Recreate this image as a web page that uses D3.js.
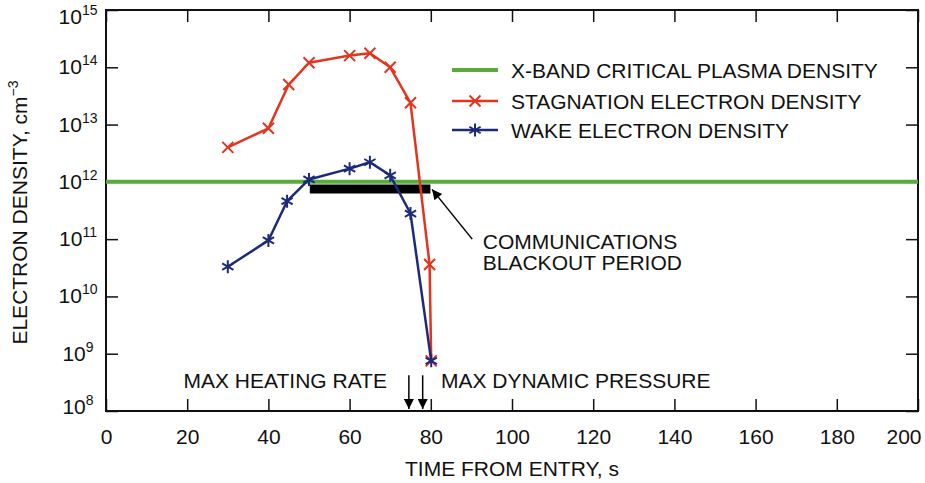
<!DOCTYPE html>
<html>
<head>
<meta charset="utf-8">
<script src="https://cdn.jsdelivr.net/npm/d3@7"></script>
<style>
  body { margin: 0; background: #fff; }
  text { font-family: "Liberation Sans", Arial, Helvetica, sans-serif; fill: #111; }
</style>
</head>
<body>
<script>
// data
const stagTime = [30, 40, 45, 50, 60, 65, 70, 75, 79.7, 80.1];
const stagDensity = [4e12, 8.6e12, 5e13, 1.2e14, 1.6e14, 1.76e14, 1.0e14, 2.4e13, 3.6e10, 7.5e8];
const wakeTime = [30, 40, 44.6, 50, 60, 65, 70, 75, 80.1];
const wakeDensity = [3.3e10, 9.5e10, 4.6e11, 1.1e12, 1.7e12, 2.2e12, 1.3e12, 2.8e11, 7.5e8];
const criticalDensity = 1e12;
const blackout = [50.2, 79.9];      // s
const blackoutLevel = 7.5e11;
const eventTimes = [74.6, 78];      // max heating rate, max dynamic pressure
const xTicks = [0, 20, 40, 60, 80, 100, 120, 140, 160, 180, 200];
const yExps = [8, 9, 10, 11, 12, 13, 14, 15];
const legendLabels = ["X-BAND CRITICAL PLASMA DENSITY", "STAGNATION ELECTRON DENSITY", "WAKE ELECTRON DENSITY"];

const W = 925, H = 483;
const red = "#e4341e", blue = "#1d2a7a", green = "#5aaa3c";

const svg = d3.select("body").append("svg")
    .attr("width", W).attr("height", H);

const x = d3.scaleLinear().domain([0, 200]).range([106, 918]);
const y = d3.scaleLog().domain([1e8, 1e15]).range([411, 10]);
const yTickVals = yExps.map(e => Math.pow(10, e));

// inward ticks on all four sides
const tickLen = 12;
svg.append("g").attr("transform", `translate(0,${y(1e8)})`)
    .call(d3.axisBottom(x).tickValues(xTicks).tickSizeInner(-tickLen).tickSizeOuter(0).tickPadding(18))
    .call(g => g.select(".domain").remove())
    .call(g => g.selectAll("line").attr("stroke", "#111").attr("stroke-width", 1.5))
    .call(g => g.selectAll("text").attr("font-size", 21).attr("font-family", null).attr("fill", "#111"))
    // last label pulled inside the window, as in the original
    .call(g => g.selectAll(".tick").filter(d => d === 200).select("text")
        .attr("text-anchor", "end").attr("x", 3));

svg.append("g").attr("transform", `translate(0,${y(1e15)})`)
    .call(d3.axisTop(x).tickValues(xTicks).tickSizeInner(-tickLen).tickSizeOuter(0).tickFormat(""))
    .call(g => g.select(".domain").remove())
    .call(g => g.selectAll("line").attr("stroke", "#111").attr("stroke-width", 1.5));

svg.append("g").attr("transform", `translate(${x(0)},0)`)
    .call(d3.axisLeft(y).tickValues(yTickVals).tickSizeInner(-tickLen).tickSizeOuter(0).tickFormat(""))
    .call(g => g.select(".domain").remove())
    .call(g => g.selectAll("line").attr("stroke", "#111").attr("stroke-width", 1.5));

svg.append("g").attr("transform", `translate(${x(200)},0)`)
    .call(d3.axisRight(y).tickValues(yTickVals).tickSizeInner(-tickLen).tickSizeOuter(0).tickFormat(""))
    .call(g => g.select(".domain").remove())
    .call(g => g.selectAll("line").attr("stroke", "#111").attr("stroke-width", 1.5));

// y tick labels as 10^n (end labels nudged inward)
const yShift = e => e === 15 ? 7 : e === 8 ? -4 : 0;
const yLab = svg.append("g").selectAll("text").data(yExps).join("text")
    .attr("x", 78).attr("y", d => y(Math.pow(10, d)) + 7 + yShift(d))
    .attr("text-anchor", "middle").attr("font-size", 21);
yLab.append("tspan").text("10");
yLab.append("tspan").attr("dy", -9).attr("font-size", 14).text(d => d);

// frame
svg.append("rect")
    .attr("x", x(0)).attr("y", y(1e15))
    .attr("width", x(200) - x(0)).attr("height", y(1e8) - y(1e15))
    .attr("fill", "none").attr("stroke", "#111").attr("stroke-width", 2);

// axis titles
svg.append("text").attr("x", (x(0) + x(200)) / 2).attr("y", 476)
    .attr("text-anchor", "middle").attr("font-size", 21).text("TIME FROM ENTRY, s");
const yt = svg.append("text")
    .attr("transform", `translate(27,${(y(1e8) + y(1e15)) / 2 + 2}) rotate(-90)`)
    .attr("text-anchor", "middle").attr("font-size", 21);
yt.append("tspan").text("ELECTRON DENSITY, cm");
yt.append("tspan").attr("dy", -9).attr("font-size", 14).text("\u22123");

// critical density line
svg.append("line")
    .attr("x1", x(0)).attr("x2", x(200))
    .attr("y1", y(criticalDensity)).attr("y2", y(criticalDensity))
    .attr("stroke", green).attr("stroke-width", 4);

// blackout bar
svg.append("line")
    .attr("x1", x(blackout[0])).attr("x2", x(blackout[1]))
    .attr("y1", y(blackoutLevel)).attr("y2", y(blackoutLevel))
    .attr("stroke", "#000").attr("stroke-width", 9);

const line = d3.line().x(d => x(d[0])).y(d => y(d[1]));
const stag = stagTime.map((t, i) => [t, stagDensity[i]]);
const wake = wakeTime.map((t, i) => [t, wakeDensity[i]]);

function crossMark(g, cx, cy, color) {
  const s = 5.5;
  g.append("path")
    .attr("d", `M${cx - s},${cy - s}L${cx + s},${cy + s}M${cx - s},${cy + s}L${cx + s},${cy - s}`)
    .attr("stroke", color).attr("stroke-width", 2).attr("fill", "none");
}
function starMark(g, cx, cy, color) {
  const s = 6.5, a = s * Math.cos(Math.PI / 6), b = s * 0.5;
  g.append("path")
    .attr("d", `M${cx},${cy - s}L${cx},${cy + s}M${cx - a},${cy - b}L${cx + a},${cy + b}M${cx - a},${cy + b}L${cx + a},${cy - b}`)
    .attr("stroke", color).attr("stroke-width", 2).attr("fill", "none");
}

svg.append("path").datum(stag).attr("d", line)
    .attr("fill", "none").attr("stroke", red).attr("stroke-width", 2.5).attr("stroke-linejoin", "round");
const stagG = svg.append("g");
stag.forEach(d => crossMark(stagG, x(d[0]), y(d[1]), red));

svg.append("path").datum(wake).attr("d", line)
    .attr("fill", "none").attr("stroke", blue).attr("stroke-width", 2.5).attr("stroke-linejoin", "round");
const wakeG = svg.append("g");
wake.forEach(d => starMark(wakeG, x(d[0]), y(d[1]), blue));

// arrows
const defs = svg.append("defs");
defs.append("marker").attr("id", "head").attr("viewBox", "0 0 10 10")
    .attr("refX", 10).attr("refY", 5).attr("markerWidth", 14).attr("markerHeight", 10)
    .attr("markerUnits", "userSpaceOnUse").attr("orient", "auto")
    .append("path").attr("d", "M0,0L10,5L0,10Z").attr("fill", "#000");

svg.append("line")
    .attr("x1", x(90.2)).attr("y1", y(1e11))
    .attr("x2", x(80.3)).attr("y2", y(7.4e11))
    .attr("stroke", "#000").attr("stroke-width", 1.5).attr("marker-end", "url(#head)");

svg.append("text").attr("x", x(92.8)).attr("y", y(6.8e10)).attr("font-size", 21).text("COMMUNICATIONS");
svg.append("text").attr("x", x(92.8)).attr("y", y(2.9e10)).attr("font-size", 21).text("BLACKOUT PERIOD");

svg.append("g").selectAll("line").data(eventTimes).join("line")
    .attr("x1", d => x(d)).attr("x2", d => x(d))
    .attr("y1", y(4.2e8)).attr("y2", y(1.08e8))
    .attr("stroke", "#000").attr("stroke-width", 1.5).attr("marker-end", "url(#head)");

svg.append("text").attr("x", x(69.2)).attr("y", y(2.5e8)).attr("text-anchor", "end")
    .attr("font-size", 21).text("MAX HEATING RATE");
svg.append("text").attr("x", x(82.5)).attr("y", y(2.5e8))
    .attr("font-size", 21).text("MAX DYNAMIC PRESSURE");

// legend
const legY = [70, 101, 130];
const leg = svg.append("g");
legendLabels.forEach((lab, i) => {
  const col = [green, red, blue][i];
  leg.append("line").attr("x1", 452).attr("x2", 498).attr("y1", legY[i]).attr("y2", legY[i])
      .attr("stroke", col).attr("stroke-width", i === 0 ? 4 : 2.5);
  if (i === 1) crossMark(leg, 475, legY[i], red);
  if (i === 2) starMark(leg, 475, legY[i], blue);
  leg.append("text").attr("x", 511).attr("y", legY[i] + 7.5).attr("font-size", 21).text(lab);
});
</script>
</body>
</html>
